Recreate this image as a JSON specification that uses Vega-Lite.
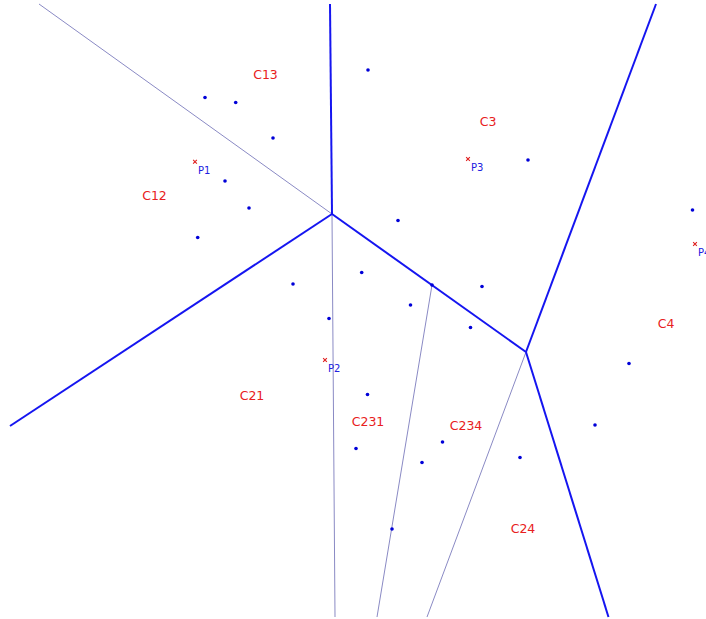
{
  "$schema": "https://vega.github.io/schema/vega-lite/v6.json",
  "width": 706,
  "height": 619,
  "autosize": {"type": "none"},
  "padding": 0,
  "background": "white",
  "config": {"view": {"stroke": null}},
  "datasets": {
    "edges": [
      {"seg": "A", "kind": "main", "ord": 0, "x": 330, "y": 4},
      {"seg": "A", "kind": "main", "ord": 1, "x": 332, "y": 214},
      {"seg": "B", "kind": "main", "ord": 0, "x": 332, "y": 214},
      {"seg": "B", "kind": "main", "ord": 1, "x": 10, "y": 426},
      {"seg": "C", "kind": "main", "ord": 0, "x": 332, "y": 214},
      {"seg": "C", "kind": "main", "ord": 1, "x": 526, "y": 352},
      {"seg": "D", "kind": "main", "ord": 0, "x": 526, "y": 352},
      {"seg": "D", "kind": "main", "ord": 1, "x": 656, "y": 4},
      {"seg": "E", "kind": "main", "ord": 0, "x": 526, "y": 352},
      {"seg": "E", "kind": "main", "ord": 1, "x": 608.5, "y": 617},
      {"seg": "F", "kind": "sub", "ord": 0, "x": 39, "y": 4},
      {"seg": "F", "kind": "sub", "ord": 1, "x": 332, "y": 214},
      {"seg": "G", "kind": "sub", "ord": 0, "x": 332, "y": 214},
      {"seg": "G", "kind": "sub", "ord": 1, "x": 335, "y": 617},
      {"seg": "H", "kind": "sub", "ord": 0, "x": 432, "y": 285},
      {"seg": "H", "kind": "sub", "ord": 1, "x": 377, "y": 617},
      {"seg": "I", "kind": "sub", "ord": 0, "x": 526, "y": 352},
      {"seg": "I", "kind": "sub", "ord": 1, "x": 427, "y": 617}
    ],
    "samples": [
      {"x": 205, "y": 97.5},
      {"x": 235.7, "y": 102.5},
      {"x": 368, "y": 70},
      {"x": 273, "y": 138},
      {"x": 225, "y": 181},
      {"x": 249, "y": 208},
      {"x": 197.7, "y": 237.5},
      {"x": 528, "y": 160},
      {"x": 398, "y": 220.5},
      {"x": 692.5, "y": 210},
      {"x": 361.7, "y": 272.5},
      {"x": 293, "y": 284},
      {"x": 482, "y": 286.5},
      {"x": 432, "y": 285},
      {"x": 410.5, "y": 305},
      {"x": 329, "y": 318.5},
      {"x": 470.5, "y": 327.5},
      {"x": 629, "y": 363.5},
      {"x": 367.5, "y": 394.5},
      {"x": 595, "y": 425},
      {"x": 442.5, "y": 442},
      {"x": 356, "y": 448.5},
      {"x": 422, "y": 462.5},
      {"x": 520, "y": 457.5},
      {"x": 392, "y": 529}
    ],
    "sites": [
      {"name": "P1", "x": 195, "y": 161.7},
      {"name": "P2", "x": 325, "y": 360},
      {"name": "P3", "x": 468, "y": 159},
      {"name": "P4", "x": 695, "y": 244}
    ],
    "cells": [
      {"name": "C13", "x": 265.5, "y": 75},
      {"name": "C3", "x": 488, "y": 121.5},
      {"name": "C12", "x": 154.5, "y": 196},
      {"name": "C4", "x": 666, "y": 324},
      {"name": "C21", "x": 252, "y": 395.5},
      {"name": "C231", "x": 368, "y": 421.5},
      {"name": "C234", "x": 466, "y": 426},
      {"name": "C24", "x": 523, "y": 529}
    ]
  },
  "layer": [
    {
      "data": {"name": "edges"},
      "transform": [{"filter": "datum.kind === 'sub'"}],
      "mark": {"type": "line", "color": "#8a8ac4", "strokeWidth": 1},
      "encoding": {
        "x": {"field": "x", "type": "quantitative", "scale": {"domain": [0, 706], "nice": false, "zero": false}, "axis": null},
        "y": {"field": "y", "type": "quantitative", "scale": {"domain": [0, 619], "reverse": true, "nice": false, "zero": false}, "axis": null},
        "detail": {"field": "seg"},
        "order": {"field": "ord"}
      }
    },
    {
      "data": {"name": "edges"},
      "transform": [{"filter": "datum.kind === 'main'"}],
      "mark": {"type": "line", "color": "#1515f0", "strokeWidth": 2},
      "encoding": {
        "x": {"field": "x", "type": "quantitative"},
        "y": {"field": "y", "type": "quantitative"},
        "detail": {"field": "seg"},
        "order": {"field": "ord"}
      }
    },
    {
      "data": {"name": "samples"},
      "mark": {"type": "point", "filled": true, "color": "#0000d8", "size": 13, "opacity": 1},
      "encoding": {
        "x": {"field": "x", "type": "quantitative"},
        "y": {"field": "y", "type": "quantitative"}
      }
    },
    {
      "data": {"name": "sites"},
      "mark": {"type": "point", "shape": "M-1,-1L1,1M-1,1L1,-1", "filled": false, "stroke": "#e02020", "strokeWidth": 1.1, "size": 14, "opacity": 1},
      "encoding": {
        "x": {"field": "x", "type": "quantitative"},
        "y": {"field": "y", "type": "quantitative"}
      }
    },
    {
      "data": {"name": "sites"},
      "mark": {"type": "text", "color": "#2020e0", "font": "DejaVu Sans", "fontSize": 10, "align": "left", "baseline": "middle", "dx": 3, "dy": 9},
      "encoding": {
        "x": {"field": "x", "type": "quantitative"},
        "y": {"field": "y", "type": "quantitative"},
        "text": {"field": "name"}
      }
    },
    {
      "data": {"name": "cells"},
      "mark": {"type": "text", "color": "#e82020", "font": "DejaVu Sans", "fontSize": 12.5, "align": "center", "baseline": "middle"},
      "encoding": {
        "x": {"field": "x", "type": "quantitative"},
        "y": {"field": "y", "type": "quantitative"},
        "text": {"field": "name"}
      }
    }
  ]
}
